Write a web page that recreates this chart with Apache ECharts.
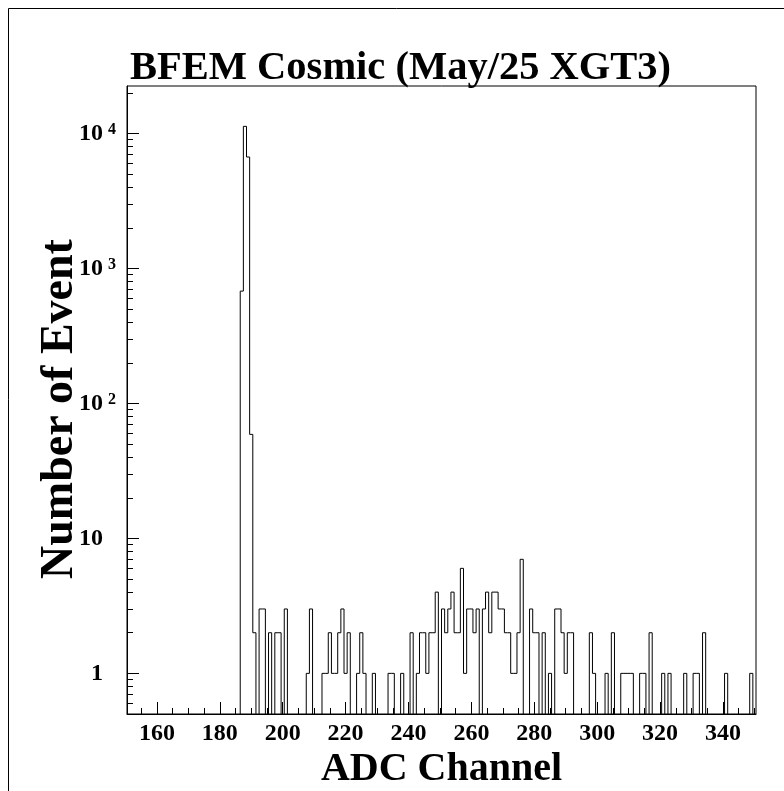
<!DOCTYPE html>
<html>
<head>
<meta charset="utf-8">
<script src="https://cdn.jsdelivr.net/npm/echarts@6/dist/echarts.min.js"></script>
<style>html,body{margin:0;padding:0;background:#fff}#chart{width:784px;height:791px}</style>
</head>
<body>
<div id="chart"></div>
<script>
// ---- data ----
const chartTitle = 'BFEM Cosmic (May/25 XGT3)';
const xTitle = 'ADC Channel';
const yTitle = 'Number of Event';
// ADC channels (bin centres, width 1) that have entries
const channels = [187,188,189,190,191,193,194,196,198,199,201,208,209,213,214,215,216,217,218,219,220,221,224,225,226,229,234,235,238,241,243,244,245,246,247,248,249,251,252,253,254,255,256,257,258,259,260,261,262,264,265,266,267,268,269,270,271,272,273,274,275,276,279,280,281,283,285,287,288,289,290,291,292,298,299,303,305,308,309,310,311,314,315,317,321,323,328,331,332,334,341,349];
const counts   = [680,11300,6700,59,2,3,3,2,2,2,3,1,3,1,1,2,1,1,2,3,1,2,1,2,1,1,1,1,1,2,1,2,2,1,2,2,4,3,2,3,4,2,2,6,1,3,3,2,3,3,4,2,4,4,3,3,2,2,1,1,2,7,3,2,2,2,1,3,3,2,1,2,2,2,1,1,2,1,1,1,1,1,1,2,1,1,1,1,1,2,1,1];
const firstChannel = 151, lastChannel = 350;
const xTickLabels = [160,180,200,220,240,260,280,300,320,340];
const xMinorTicks = [155,160,165,170,175,180,185,190,195,200,205,210,215,220,225,230,235,240,245,250,255,260,265,270,275,280,285,290,295,300,305,310,315,320,325,330,335,340,345,350];
const yTickValues = [1,10,100,1000,10000];
const yMinorTicks = [0.6,0.7,0.8,0.9,2,3,4,5,6,7,8,9,20,30,40,50,60,70,80,90,200,300,400,500,600,700,800,900,2000,3000,4000,5000,6000,7000,8000,9000,20000];

// ---- build histogram step outline (points at bin low edges) ----
const countOf = {};
channels.forEach((c, i) => { countOf[c] = counts[i]; });
const FLOOR = 0.05; // empty bins are drawn down below the frame and clipped
const stepData = [];
for (let c = firstChannel; c <= lastChannel; c++) {
  const v = countOf[c] || 0;
  stepData.push([c - 0.5, v > 0 ? v : FLOOR]);
}
stepData.push([lastChannel + 0.5, FLOOR]);

const FONT = '"Liberation Serif", "Times New Roman", serif';
const chart = echarts.init(document.getElementById('chart'), null, {renderer: 'canvas'});
const xMin = firstChannel - 0.5, xMax = lastChannel + 0.5;
const yMin = 0.5, yMax = 22500;

chart.setOption({
  animation: false,
  backgroundColor: '#ffffff',
  title: {
    text: chartTitle,
    left: 125, top: 43,
    textStyle: {fontFamily: FONT, fontWeight: 'bold', fontSize: 40.5, color: '#000'}
  },
  graphic: [
    {type: 'line', shape: {x1: 8.5, y1: 8.5, x2: 784, y2: 8.5}, style: {stroke: '#000', lineWidth: 1}, silent: true},
    {type: 'line', shape: {x1: 8.5, y1: 8.5, x2: 8.5, y2: 791}, style: {stroke: '#000', lineWidth: 1}, silent: true}
  ],
  grid: {left: 127, top: 86, right: 28, bottom: 77, outerBoundsMode: 'none', containLabel: false,
         show: true, borderColor: '#000', borderWidth: 1, backgroundColor: 'transparent'},
  xAxis: [{
    type: 'value', min: xMin, max: xMax, position: 'bottom',
    name: xTitle, nameLocation: 'middle', nameGap: 36, nameMoveOverlap: false,
    nameTextStyle: {fontFamily: FONT, fontWeight: 'bold', fontSize: 40, color: '#000'},
    axisLine: {show: true, onZero: false, lineStyle: {color: '#000', width: 1}},
    axisTick: {show: true, inside: true, length: 12, customValues: xTickLabels, lineStyle: {color: '#000'}},
    axisLabel: {show: true, customValues: xTickLabels, margin: 8, fontFamily: FONT, fontWeight: 'bold', fontSize: 24, color: '#000'},
    splitLine: {show: false}
  }, {
    type: 'value', min: xMin, max: xMax, position: 'bottom',
    axisLine: {show: false, onZero: false},
    axisTick: {show: true, inside: true, length: 6, customValues: xMinorTicks, lineStyle: {color: '#000'}},
    axisLabel: {show: false},
    splitLine: {show: false}
  }],
  yAxis: [{
    type: 'log', logBase: 10, min: yMin, max: yMax, position: 'left',
    name: yTitle, nameLocation: 'middle', nameGap: 44, nameMoveOverlap: false,
    nameTextStyle: {fontFamily: FONT, fontWeight: 'bold', fontSize: 46, color: '#000', padding: [0, 18, 0, 0]},
    axisLine: {show: true, onZero: false, lineStyle: {color: '#000', width: 1}},
    axisTick: {show: true, inside: true, length: 12, customValues: yTickValues, lineStyle: {color: '#000'}},
    axisLabel: {
      show: true, customValues: yTickValues, margin: 11,
      formatter: function (v) {
        const e = Math.round(Math.log10(v));
        if (e >= 2) return '{b|10}{s|' + e + '}';
        return '{b|' + Math.round(v) + '}{p|}';
      },
      rich: {
        b: {fontFamily: FONT, fontWeight: 'bold', fontSize: 24, lineHeight: 24, color: '#000'},
        s: {fontFamily: FONT, fontWeight: 'bold', fontSize: 16, lineHeight: 16, verticalAlign: 'top', padding: [0, 0, 0, 5], color: '#000'},
        p: {width: 13, fontSize: 16}
      }
    },
    splitLine: {show: false}
  }, {
    type: 'log', logBase: 10, min: yMin, max: yMax, position: 'left',
    axisLine: {show: false, onZero: false},
    axisTick: {show: true, inside: true, length: 6, customValues: yMinorTicks, lineStyle: {color: '#000'}},
    axisLabel: {show: false},
    splitLine: {show: false}
  }],
  series: [{
    type: 'line', name: 'ADC', xAxisIndex: 0, yAxisIndex: 0,
    data: stepData, step: 'end', symbol: 'none', clip: true,
    lineStyle: {color: '#000', width: 1},
    silent: true
  }]
});
</script>
</body>
</html>
